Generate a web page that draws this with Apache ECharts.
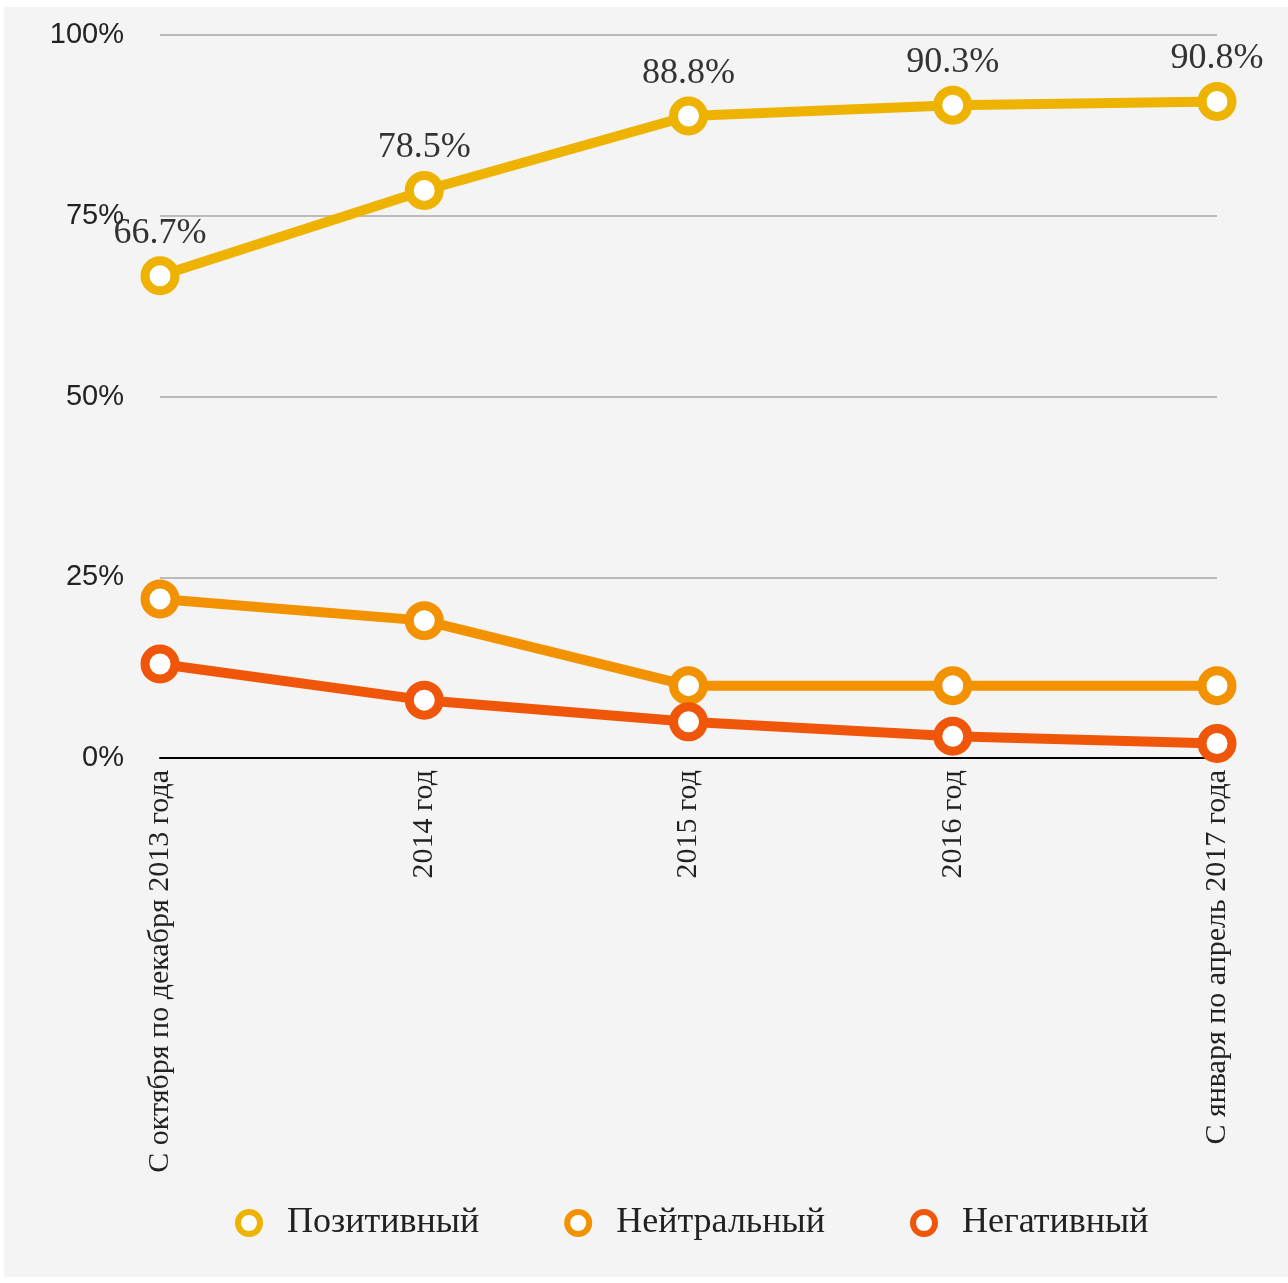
<!DOCTYPE html>
<html>
<head>
<meta charset="utf-8">
<script src="https://cdn.jsdelivr.net/npm/echarts@6/dist/echarts.min.js"></script>
<style>
  html, body { margin: 0; padding: 0; background: #ffffff; }
  #chart { position: absolute; left: 4px; top: 7px; width: 1284px; height: 1270px; }
</style>
</head>
<body>
<div id="chart"></div>
<script>
// Periods on the x axis
const periods = [
  'С октября по декабря 2013 года',
  '2014 год',
  '2015 год',
  '2016 год',
  'С января по апрель 2017 года'
];

// Share of mentions by tone, percent
const positive = [66.7, 78.5, 88.8, 90.3, 90.8];
const neutral = [22, 19, 10, 10, 10];
const negative = [13, 8, 5, 3, 2];

const seriesNames = ['Позитивный', 'Нейтральный', 'Негативный'];
const seriesColors = ['#eeb200', '#f39200', '#f0560a'];

const serif = '"Liberation Serif", "DejaVu Serif", serif';
const sans = '"Liberation Sans", Arial, sans-serif';

function lineSeries(name, data, color, withLabels) {
  return {
    name: name,
    type: 'line',
    data: data,
    symbol: 'circle',
    symbolSize: 30,
    showAllSymbol: true,
    lineStyle: { width: 10, color: color },
    itemStyle: { color: '#ffffff', borderColor: color, borderWidth: 9 },
    label: withLabels ? {
      show: true,
      position: 'top',
      distance: 5,
      formatter: '{c}%',
      color: '#333333',
      fontFamily: serif,
      fontSize: 36
    } : { show: false },
    emphasis: { disabled: true },
    z: withLabels ? 3 : 2
  };
}

const chart = echarts.init(document.getElementById('chart'), null, { renderer: 'canvas' });
chart.setOption({
  backgroundColor: '#f4f4f4',
  animation: false,
  grid: { left: 156, right: 71, top: 28, bottom: 519, containLabel: false },
  xAxis: {
    type: 'category',
    data: periods,
    boundaryGap: false,
    axisLine: { lineStyle: { color: '#000000', width: 2 } },
    axisTick: { show: false },
    axisLabel: {
      rotate: 90,
      margin: 12,
      color: '#222222',
      fontFamily: serif,
      fontSize: 30
    }
  },
  yAxis: {
    type: 'value',
    min: 0,
    max: 100,
    interval: 25,
    axisLine: { show: false },
    axisTick: { show: false },
    splitLine: { lineStyle: { color: '#bbbbbb', width: 2 } },
    axisLabel: {
      formatter: '{value}%',
      margin: 36,
      color: '#222222',
      fontFamily: sans,
      fontSize: 29
    }
  },
  legend: {
    data: seriesNames.map(function (name, i) {
      return {
        name: name,
        icon: 'circle',
        itemStyle: { color: '#ffffff', borderColor: seriesColors[i], borderWidth: 6 }
      };
    }),
    top: 1193,
    left: 226,
    itemWidth: 22,
    itemHeight: 22,
    itemGap: 85,
    textStyle: { color: '#222222', fontFamily: serif, fontSize: 36, padding: [0, 0, 0, 22] }
  },
  series: [
    lineSeries(seriesNames[0], positive, seriesColors[0], true),
    lineSeries(seriesNames[1], neutral, seriesColors[1], false),
    lineSeries(seriesNames[2], negative, seriesColors[2], false)
  ]
});
</script>
</body>
</html>
